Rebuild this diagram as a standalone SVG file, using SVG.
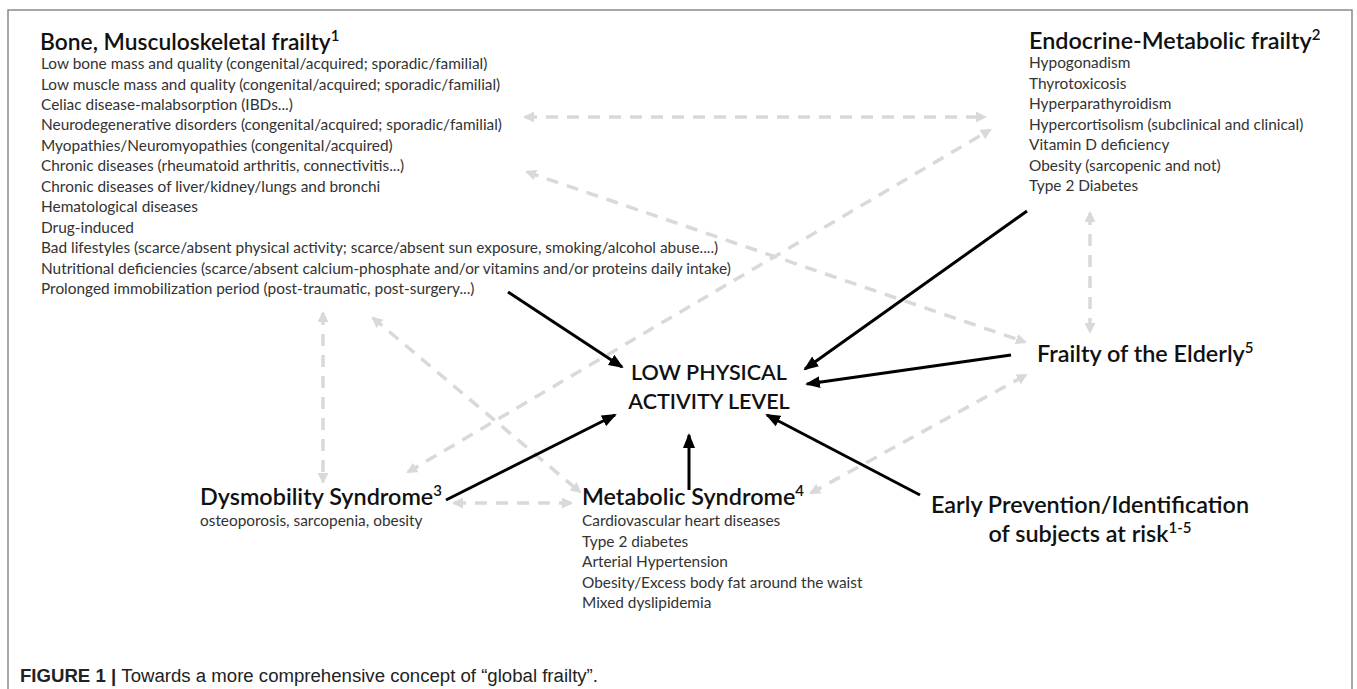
<svg xmlns="http://www.w3.org/2000/svg" width="1357" height="689" viewBox="0 0 1357 689">
<style>
.t{font-family:Lato,"Open Sans","Liberation Sans",sans-serif;font-weight:600;fill:#111;font-size:23.4px}
.b{font-size:22.8px}
.c{font-size:21.5px}
.l{font-family:Lato,"Open Sans","Liberation Sans",sans-serif;fill:#333;font-size:15.4px}
.sup{font-size:15px}
.blk{stroke:#000;stroke-width:3;fill:none;marker-end:url(#ah)}
.dsh{stroke:#d9d9d9;stroke-width:3.5;fill:none;stroke-dasharray:12 9;marker-start:url(#gh);marker-end:url(#gh)}
.cap{font-family:"Liberation Sans",Arial,sans-serif;font-size:18px;fill:#222}
</style>
<defs>
<marker id="ah" markerUnits="userSpaceOnUse" markerWidth="16" markerHeight="12" refX="13" refY="6" orient="auto"><path d="M0,0 L15,6 L0,12 z" fill="#000"/></marker>
<marker id="gh" markerUnits="userSpaceOnUse" markerWidth="12" markerHeight="11" refX="9" refY="5.5" orient="auto-start-reverse"><path d="M0,0 L11,5.5 L0,11 z" fill="#d9d9d9"/></marker>
</defs>
<rect x="0" y="0" width="1357" height="689" fill="#fff"/>
<rect id="frame" x="8" y="10" width="1344" height="700" fill="none" stroke="#8a8a8a" stroke-width="1.5"/>

<g id="connectors">
<line class="dsh" x1="525" y1="117" x2="985" y2="117"/>
<line class="dsh" x1="408" y1="472" x2="990" y2="130"/>
<line class="dsh" x1="527" y1="172" x2="1025" y2="342"/>
<line class="dsh" x1="323" y1="313" x2="323" y2="482"/>
<line class="dsh" x1="373" y1="318" x2="580" y2="492"/>
<line class="dsh" x1="454" y1="503" x2="571" y2="503"/>
<line class="dsh" x1="1090" y1="213" x2="1090" y2="332"/>
<line class="dsh" x1="811" y1="493" x2="1026" y2="375"/>
<line class="blk" x1="508" y1="292" x2="622" y2="367"/>
<line class="blk" x1="1027" y1="211" x2="805" y2="369"/>
<line class="blk" x1="1011" y1="355" x2="807" y2="384"/>
<line class="blk" x1="920" y1="495" x2="767" y2="415"/>
<line class="blk" x1="689" y1="490" x2="689" y2="435"/>
<line class="blk" x1="446" y1="500" x2="615" y2="415"/>
</g>

<g id="bone">
<text class="t b" x="40" y="50">Bone, Musculoskeletal frailty<tspan class="sup" dy="-9">1</tspan></text>
<text class="l" x="41" y="69">Low bone mass and quality (congenital/acquired; sporadic/familial)</text>
<text class="l" x="41" y="89.5">Low muscle mass and quality (congenital/acquired; sporadic/familial)</text>
<text class="l" x="41" y="110">Celiac disease-malabsorption (IBDs...)</text>
<text class="l" x="41" y="130.4">Neurodegenerative disorders (congenital/acquired; sporadic/familial)</text>
<text class="l" x="41" y="150.8">Myopathies/Neuromyopathies  (congenital/acquired)</text>
<text class="l" x="41" y="171.3">Chronic diseases (rheumatoid arthritis, connectivitis...)</text>
<text class="l" x="41" y="191.7">Chronic diseases of liver/kidney/lungs and bronchi</text>
<text class="l" x="41" y="212.2">Hematological diseases</text>
<text class="l" x="41" y="232.6">Drug-induced</text>
<text class="l" x="41" y="253">Bad lifestyles (scarce/absent physical activity; scarce/absent sun exposure, smoking/alcohol abuse....)</text>
<text class="l" x="41" y="273.5">Nutritional deficiencies (scarce/absent calcium-phosphate and/or vitamins and/or proteins daily intake)</text>
<text class="l" x="41" y="294">Prolonged immobilization period (post-traumatic, post-surgery...)</text>
</g>

<g id="endocrine">
<text class="t" x="1029" y="49">Endocrine-Metabolic frailty<tspan class="sup" dy="-9">2</tspan></text>
<text class="l" x="1029" y="68">Hypogonadism</text>
<text class="l" x="1029" y="88.5">Thyrotoxicosis</text>
<text class="l" x="1029" y="109">Hyperparathyroidism</text>
<text class="l" x="1029" y="129.5">Hypercortisolism (subclinical and clinical)</text>
<text class="l" x="1029" y="150">Vitamin D deficiency</text>
<text class="l" x="1029" y="170.5">Obesity (sarcopenic and not)</text>
<text class="l" x="1029" y="191">Type 2 Diabetes</text>
</g>

<g id="low-activity">
<text class="t c" x="709" y="380" text-anchor="middle">LOW PHYSICAL</text>
<text class="t c" x="709" y="409" text-anchor="middle">ACTIVITY LEVEL</text>
</g>

<g id="frailty-elderly">
<text class="t" x="1037" y="362">Frailty of the Elderly<tspan class="sup" dy="-9">5</tspan></text>
</g>

<g id="early-prevention">
<text class="t" x="1090" y="513" text-anchor="middle">Early Prevention/Identification</text>
<text class="t" x="1090" y="542" text-anchor="middle">of subjects at risk<tspan class="sup" dy="-9">1-5</tspan></text>
</g>

<g id="dysmobility">
<text class="t" x="200" y="505">Dysmobility Syndrome<tspan class="sup" dy="-9">3</tspan></text>
<text class="l" x="200" y="526">osteoporosis, sarcopenia, obesity</text>
</g>

<g id="metabolic">
<text class="t" x="582" y="505">Metabolic Syndrome<tspan class="sup" dy="-9">4</tspan></text>
<text class="l" x="582" y="526">Cardiovascular heart diseases</text>
<text class="l" x="582" y="546.5">Type 2 diabetes</text>
<text class="l" x="582" y="567">Arterial Hypertension</text>
<text class="l" x="582" y="587.5">Obesity/Excess body fat around the waist</text>
<text class="l" x="582" y="608">Mixed dyslipidemia</text>
</g>

<g id="caption">
<text class="cap" x="20" y="682" textLength="578" lengthAdjust="spacingAndGlyphs"><tspan font-weight="bold">FIGURE 1 | </tspan>Towards a more comprehensive concept of “global frailty”.</text>
</g>
</svg>
